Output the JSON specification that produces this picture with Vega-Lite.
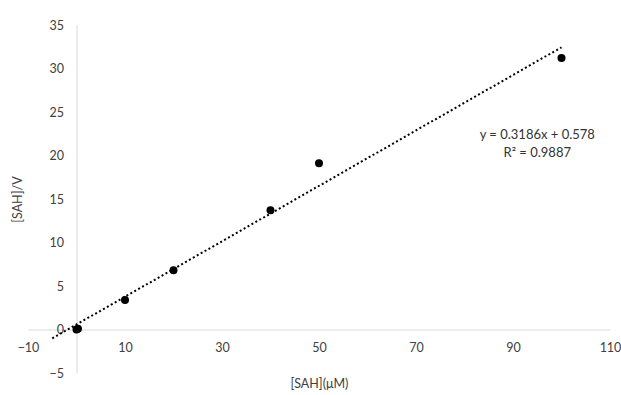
{
  "$schema": "https://vega.github.io/schema/vega-lite/v6.json",
  "width": 582,
  "height": 348,
  "padding": {"left": 28, "top": 25, "right": 11, "bottom": 22},
  "autosize": {"type": "none"},
  "background": "white",
  "config": {
    "view": {"stroke": null},
    "font": "Lato",
    "axis": {
      "grid": false,
      "ticks": false,
      "domainColor": "#d9d9d9",
      "domainWidth": 1,
      "labelColor": "#404040",
      "labelFont": "Lato",
      "labelFontSize": 12.5,
      "titleColor": "#404040",
      "titleFont": "Lato",
      "titleFontSize": 12.5,
      "titleFontWeight": "normal"
    }
  },
  "layer": [
    {
      "data": {"values": [{"x": -5, "y": -1.015}, {"x": 100, "y": 32.438}]},
      "mark": {"type": "line", "color": "#000000", "strokeWidth": 2, "strokeDash": [2, 2.5]},
      "encoding": {
        "x": {"field": "x", "type": "quantitative", "scale": {"domain": [-10, 110], "nice": false, "zero": false},
          "axis": {"title": "[SAH](μM)", "values": [-10, 10, 30, 50, 70, 90, 110], "offset": -43.5, "labelPadding": 12, "titlePadding": 23, "labelFlush": false}},
        "y": {"field": "y", "type": "quantitative", "scale": {"domain": [-5, 35], "nice": false, "zero": false},
          "axis": {"title": "[SAH]/V", "values": [-5, 0, 5, 10, 15, 20, 25, 30, 35], "offset": -48.5, "labelPadding": 13, "titlePadding": 25, "labelFlush": false}}
      }
    },
    {
      "data": {"values": [
        {"x": 0, "y": 0},
        {"x": 0.3, "y": 0.1},
        {"x": 10, "y": 3.4},
        {"x": 20, "y": 6.8},
        {"x": 40, "y": 13.7},
        {"x": 50, "y": 19.1},
        {"x": 100, "y": 31.2}
      ]},
      "mark": {"type": "point", "filled": true, "color": "#000000", "opacity": 1, "size": 64},
      "encoding": {
        "x": {"field": "x", "type": "quantitative"},
        "y": {"field": "y", "type": "quantitative"}
      }
    },
    {
      "data": {"values": [
        {"x": 95, "y": 22.3, "t": "y = 0.3186x + 0.578"},
        {"x": 95, "y": 20.3, "t": "R² = 0.9887"}
      ]},
      "mark": {"type": "text", "font": "Lato", "fontSize": 13, "color": "#333333", "align": "center", "baseline": "middle"},
      "encoding": {
        "x": {"field": "x", "type": "quantitative"},
        "y": {"field": "y", "type": "quantitative"},
        "text": {"field": "t"}
      }
    }
  ]
}
